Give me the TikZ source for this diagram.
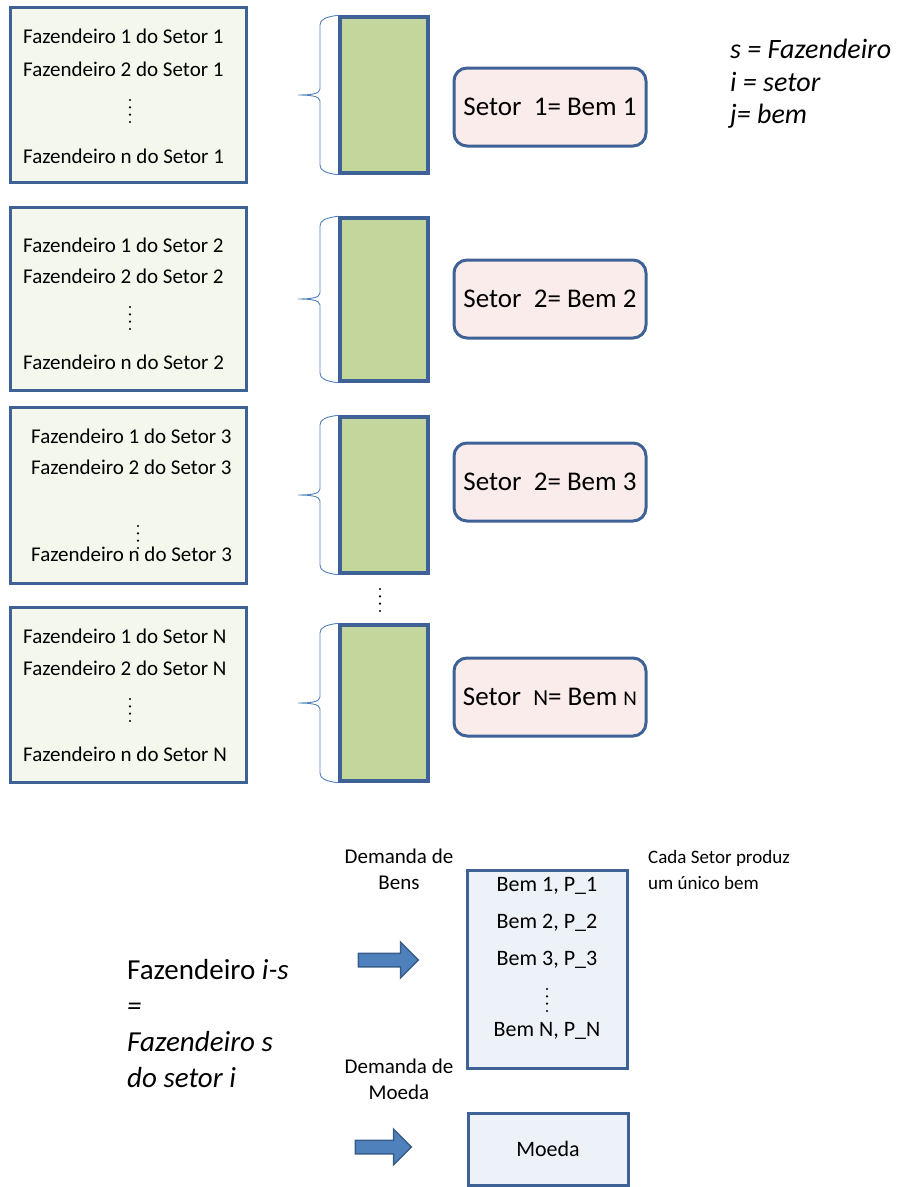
\documentclass[tikz,border=0pt]{standalone}
\usepackage{fontspec}
\setmainfont{Carlito}
\usetikzlibrary{shapes.arrows}
\definecolor{frame}{HTML}{3F6296}
\definecolor{farmbg}{HTML}{F3F7EC}
\definecolor{prodgreen}{HTML}{C3D69B}
\definecolor{sectbg}{HTML}{FBECEC}
\definecolor{mktbg}{HTML}{EDF1F8}
\definecolor{bracecol}{HTML}{4F81BD}
\definecolor{arrfill}{HTML}{4F81BD}
\definecolor{arrline}{HTML}{385D8A}
\tikzset{
  farm/.style={draw=frame, line width=3pt, fill=farmbg, minimum width=236pt, inner sep=0pt},
  prod/.style={draw=frame, line width=3.6pt, fill=prodgreen, minimum width=88pt, inner sep=0pt},
  sect/.style={draw=frame, line width=3pt, fill=sectbg, rounded corners=13pt, minimum width=192pt, minimum height=78pt, font=\fontsize{27}{30}\selectfont, inner sep=2pt},
  mkt/.style={draw=frame, line width=3pt, fill=mktbg, minimum width=160pt, inner sep=0pt, font=\fontsize{22}{26}\selectfont},
  ftxt/.style={anchor=west, font=\fontsize{21}{24}\selectfont, inner sep=0pt},
  btxt/.style={font=\fontsize{22}{26}\selectfont, inner sep=0pt},
  dotline/.style={line width=2.4pt, line cap=round, dash pattern=on 0pt off 7.33pt},
  lgd/.style={anchor=west, font=\fontsize{28}{32}\selectfont\itshape, inner sep=0pt},
  lbl/.style={font=\fontsize{21}{26}\selectfont, align=center, inner sep=0pt},
  brc/.style={draw=bracecol, line width=0.9pt},
  blk/.style={single arrow, draw=arrline, line width=1.5pt, fill=arrfill, inner sep=6pt, minimum width=34pt, single arrow head extend=11pt}
}

\begin{document}
\begin{tikzpicture}[x=1pt, y=-1pt]
\useasboundingbox (0,0) rectangle (906,1187);
% setor 1
\node[farm, minimum height=175pt] (f1) at (128,94.5) {};
\node[ftxt] (f1a) at (23,36) {Fazendeiro 1 do Setor 1};
\node[ftxt] (f1b) at (23,69) {Fazendeiro 2 do Setor 1};
\coordinate (f1d0) at (130,100);
\coordinate (f1d1) at (130,122);
\draw[dotline] (f1d0) -- (f1d1);
\node[ftxt] (f1n) at (23,156) {Fazendeiro n do Setor 1};
\node[prod, minimum height=156pt] (p1) at (384,95) {};
\node[sect] (s1) at (550,107) {Setor~~1= Bem 1};
\draw[brc] (p1.north west) .. controls (326,17) and (320,19) .. (320,25) -- (320,89)
  .. controls (320,94) and (310,95) .. (298,95) .. controls (310,95) and (320,96) .. (320,101)
  -- (320,165) .. controls (320,171) and (326,173) .. (p1.south west);
% setor 2
\node[farm, minimum height=183pt] (f2) at (128,298.5) {};
\node[ftxt] (f2a) at (23,245) {Fazendeiro 1 do Setor 2};
\node[ftxt] (f2b) at (23,276) {Fazendeiro 2 do Setor 2};
\coordinate (f2d0) at (130,307);
\coordinate (f2d1) at (130,329);
\draw[dotline] (f2d0) -- (f2d1);
\node[ftxt] (f2n) at (23,362) {Fazendeiro n do Setor 2};
\node[prod, minimum height=163pt] (p2) at (384,299.5) {};
\node[sect] (s2) at (550,299) {Setor~~2= Bem 2};
\draw[brc] (p2.north west) .. controls (326,218) and (320,220) .. (320,226) -- (320,293)
  .. controls (320,298) and (310,299) .. (298,299) .. controls (310,299) and (320,300) .. (320,305)
  -- (320,373) .. controls (320,379) and (326,381) .. (p2.south west);
% setor 3
\node[farm, minimum height=176pt] (f3) at (128,495) {};
\node[ftxt] (f3a) at (31,436) {Fazendeiro 1 do Setor 3};
\node[ftxt] (f3b) at (31,467) {Fazendeiro 2 do Setor 3};
\coordinate (f3d0) at (138,526);
\coordinate (f3d1) at (138,548);
\draw[dotline] (f3d0) -- (f3d1);
\node[ftxt] (f3n) at (31,554) {Fazendeiro n do Setor 3};
\node[prod, minimum height=156pt] (p3) at (384,495) {};
\node[sect] (s3) at (550,482) {Setor~~2= Bem 3};
\draw[brc] (p3.north west) .. controls (326,417) and (320,419) .. (320,425) -- (320,489)
  .. controls (320,494) and (310,495) .. (298,495) .. controls (310,495) and (320,496) .. (320,501)
  -- (320,565) .. controls (320,571) and (326,573) .. (p3.south west);
\coordinate (pd0) at (380,589);
\coordinate (pd1) at (380,611);
\draw[dotline] (pd0) -- (pd1);
% setor N
\node[farm, minimum height=175pt] (f4) at (128,694.5) {};
\node[ftxt] (f4a) at (23,636) {Fazendeiro 1 do Setor N};
\node[ftxt] (f4b) at (23,668) {Fazendeiro 2 do Setor N};
\coordinate (f4d0) at (130,699);
\coordinate (f4d1) at (130,721);
\draw[dotline] (f4d0) -- (f4d1);
\node[ftxt] (f4n) at (23,754) {Fazendeiro n do Setor N};
\node[prod, minimum height=156pt] (p4) at (384,703) {};
\node[sect] (s4) at (550,697) {Setor~~{\fontsize{23}{26}\selectfont N}= Bem {\fontsize{21}{26}\selectfont N}};
\draw[brc] (p4.north west) .. controls (326,625) and (320,627) .. (320,633) -- (320,697)
  .. controls (320,702) and (310,703) .. (298,703) .. controls (310,703) and (320,704) .. (320,709)
  -- (320,773) .. controls (320,779) and (326,781) .. (p4.south west);
% legenda
\node[lgd] (ls) at (730,49) {s = Fazendeiro};
\node[lgd] (li) at (730,82) {i = setor};
\node[lgd] (lj) at (730,116) {j= bem};
% mercado
\node[lbl] (db) at (399,869) {Demanda de\\Bens};
\node[lbl, anchor=west, align=left, font=\fontsize{19}{26}\selectfont] (cs) at (648,870) {Cada Setor produz\\um único bem};
\node[mkt, minimum height=198pt] (bens) at (547.5,969) {};
\node[btxt] (b1) at (547,886) {Bem 1, P\_1};
\node[btxt] (b2) at (547,923) {Bem 2, P\_2};
\node[btxt] (b3) at (547,960) {Bem 3, P\_3};
\coordinate (bd0) at (547,989);
\coordinate (bd1) at (547,1011);
\draw[dotline] (bd0) -- (bd1);
\node[btxt] (bn) at (547,1031) {Bem N, P\_N};
\node[blk, minimum height=60pt] (a1) at (385,960) {};
\node[lbl] (dm) at (399,1079) {Demanda de\\Moeda};
\node[mkt, minimum height=72pt] (moeda) at (548,1149) {Moeda};
\node[blk, minimum height=56pt] (a2) at (380,1147) {};
\node[anchor=west, align=left, inner sep=0pt, font=\fontsize{29}{36}\selectfont] (fis) at (127,1024)
  {Fazendeiro \textit{i-s}\\\textit{=}\\\textit{Fazendeiro s}\\\textit{do setor i}};
\end{tikzpicture}
\end{document}
